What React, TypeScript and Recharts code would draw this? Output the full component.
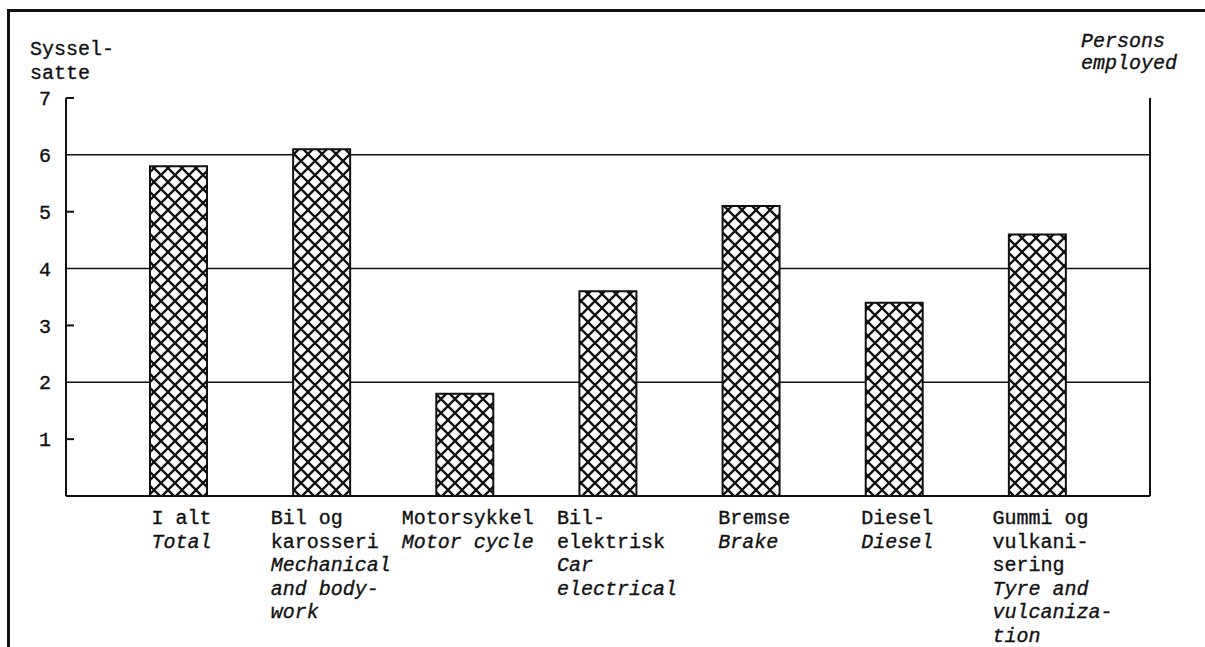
import React from "react";
import {
  BarChart,
  Bar,
  XAxis,
  YAxis,
  CartesianGrid,
} from "recharts";

// Norwegian category labels (upright) and English translations (italic)
const CATEGORY_NO = [
  ["I alt"],
  ["Bil og", "karosseri"],
  ["Motorsykkel"],
  ["Bil-", "elektrisk"],
  ["Bremse"],
  ["Diesel"],
  ["Gummi og", "vulkani-", "sering"],
];

const CATEGORY_EN = [
  ["Total"],
  ["Mechanical", "and body-", "work"],
  ["Motor cycle"],
  ["Car", "electrical"],
  ["Brake"],
  ["Diesel"],
  ["Tyre and", "vulcaniza-", "tion"],
];

// persons employed per workshop
const EMPLOYED = [5.8, 6.1, 1.8, 3.6, 5.1, 3.4, 4.6];

const Y_TICKS = [1, 2, 3, 4, 5, 6, 7];
const GRID_VALUES = [2, 4, 6];

const data = CATEGORY_NO.map((no, i) => ({
  name: no.join(" "),
  value: EMPLOYED[i],
}));

const FONT = "'Liberation Mono', 'DejaVu Sans Mono', monospace";
const CHAR_W = 12;
const LINE_H = 23.5;
const INK = "#111";

// typewriter look: thin stroke round the glyphs
const txt = { fontFamily: FONT, fontSize: 20, fill: INK, stroke: INK, strokeWidth: 0.35 };

const CategoryTick = (props: any) => {
  const { x, y, payload } = props;
  const i = payload.index;
  const no = CATEGORY_NO[i];
  const en = CATEGORY_EN[i];
  const widest = Math.max(...no.map((s) => s.length));
  const x0 = x - (widest * CHAR_W) / 2 + 3;
  const lines = [
    ...no.map((t) => ({ t, italic: false })),
    ...en.map((t) => ({ t, italic: true })),
  ];
  return (
    <g>
      {lines.map((l, k) => (
        <text
          key={k}
          x={x0}
          y={y + 28 + k * LINE_H}
          {...txt}
          fontStyle={l.italic ? "italic" : "normal"}
        >
          {l.t}
        </text>
      ))}
    </g>
  );
};

const LeftTick = (props: any) => {
  const { x, y, payload } = props;
  const v = payload.value;
  return (
    <g>
      <text x={x - 15} y={y} dy="0.36em" textAnchor="end" {...txt}>
        {v}
      </text>
      {!GRID_VALUES.includes(v) && (
        <line x1={x} x2={x + 8} y1={y} y2={y} stroke={INK} strokeWidth={2} />
      )}
    </g>
  );
};

const RightTick = (props: any) => {
  const { x, y, payload } = props;
  const v = payload.value;
  return (
    <g>
      <text x={x + 17} y={y} dy="0.36em" textAnchor="start" {...txt}>
        {v}
      </text>
      {!GRID_VALUES.includes(v) && (
        <line x1={x - 8} x2={x} y1={y} y2={y} stroke={INK} strokeWidth={2} />
      )}
    </g>
  );
};

export default function App() {
  return (
    <div
      style={{
        position: "absolute",
        left: 0,
        top: 0,
        width: 1205,
        height: 647,
        background: "#fff",
        overflow: "hidden",
      }}
    >
      {/* cut-off caption line above the frame */}
      <div
        style={{
          position: "absolute",
          left: 137,
          top: -21,
          fontFamily: FONT,
          fontStyle: "italic",
          fontSize: 20,
          whiteSpace: "pre",
          color: INK,
        }}
      >
        mechanics employed, by type of workshop. Average
      </div>

      {/* frame */}
      <div
        style={{
          position: "absolute",
          left: 7,
          top: 9,
          width: 1300,
          height: 700,
          borderLeft: `3px solid ${INK}`,
          borderTop: `3px solid ${INK}`,
        }}
      />

      <div style={{ position: "absolute", left: 0, top: 0 }}>
        <BarChart
          width={1205}
          height={647}
          data={data}
          margin={{ top: 98, right: 5, bottom: 1, left: 16 }}
          barSize={57}
        >
          <defs>
            <pattern id="hatch" width="14" height="14" patternUnits="userSpaceOnUse">
              <rect width="14" height="14" fill="#fff" />
              <path d="M-2,-2 L16,16 M16,-2 L-2,16" stroke={INK} strokeWidth={2.3} />
            </pattern>
          </defs>
          <CartesianGrid
            vertical={false}
            horizontalValues={GRID_VALUES}
            stroke={INK}
            strokeWidth={1.5}
            yAxisId="left"
          />
          <XAxis
            dataKey="name"
            height={150}
            padding={{ left: 41, right: 41 }}
            axisLine={{ stroke: INK, strokeWidth: 2 }}
            tickLine={false}
            tickSize={0}
            tickMargin={0}
            interval={0}
            tick={<CategoryTick />}
          />
          <YAxis
            yAxisId="left"
            width={50}
            domain={[0, 7]}
            ticks={Y_TICKS}
            interval={0}
            axisLine={{ stroke: INK, strokeWidth: 2 }}
            tickLine={false}
            tickSize={0}
            tickMargin={0}
            tick={<LeftTick />}
          />
          <YAxis
            yAxisId="right"
            orientation="right"
            width={50}
            domain={[0, 7]}
            ticks={Y_TICKS}
            interval={0}
            axisLine={{ stroke: INK, strokeWidth: 2 }}
            tickLine={false}
            tickSize={0}
            tickMargin={0}
            tick={<RightTick />}
          />
          <Bar
            yAxisId="left"
            dataKey="value"
            fill="url(#hatch)"
            stroke={INK}
            strokeWidth={2}
            isAnimationActive={false}
          />
        </BarChart>
      </div>

      {/* axis titles */}
      <svg
        width={1205}
        height={100}
        style={{ position: "absolute", left: 0, top: 0, pointerEvents: "none" }}
      >
        <text x={30} y={55} {...txt}>
          Syssel-
        </text>
        <text x={30} y={79} {...txt}>
          satte
        </text>
        <text x={1081} y={47} {...txt} fontStyle="italic">
          Persons
        </text>
        <text x={1081} y={69} {...txt} fontStyle="italic">
          employed
        </text>
      </svg>
    </div>
  );
}
